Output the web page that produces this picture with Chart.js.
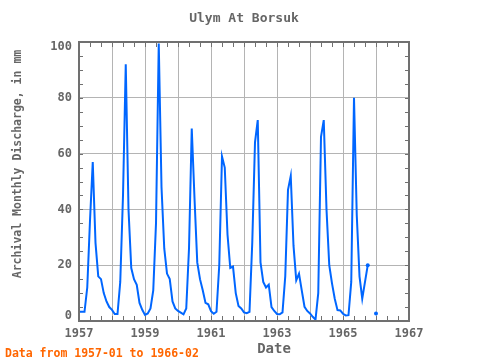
<!DOCTYPE html>
<html>
<head>
<meta charset="utf-8">
<script src="https://cdn.jsdelivr.net/npm/chart.js@4"></script>
<style>
  body { margin: 0; background: #fff; }
  canvas { display: block; }
</style>
</head>
<body>
<canvas id="dischargeChart" width="480" height="360"></canvas>
<script>
// monthly discharge, Ulym at Borsuk, 1957-01 .. 1966-02 (mm)
const startYear = 1957;
const discharge = [
  3.3, 3.3, 3.3, 12, 36, 57, 28, 16, 15, 10, 7, 5,        // 1957
  4, 2.5, 2.5, 14, 45, 92, 40, 19, 15, 13, 6.5, 4,        // 1958
  2.2, 2.7, 4.5, 11, 35, 99.5, 48, 26, 17, 15, 7, 4.5,    // 1959
  3.6, 3, 2.4, 4.5, 26, 69, 44, 21, 15, 11, 6.5, 6,       // 1960
  3.5, 2.6, 3.3, 20, 59, 55, 31, 19, 19.5, 10, 5.4, 4.5,  // 1961
  3.1, 2.8, 3.3, 28, 64, 72, 21, 14, 12, 13, 5, 3.6,      // 1962
  2.5, 2.4, 3.1, 16, 47, 52, 27, 14.6, 17, 11, 5.1, 3.6,  // 1963
  2.7, 1.5, 0.5, 10, 66, 72, 40, 20, 13.5, 8, 3.9, 3.8,   // 1964
  2.6, 2, 2.1, 14, 80, 38, 16, 8, 14, 20, null, null,     // 1965
  2.7, null                                               // 1966
];
const yearTicks = [1957, 1959, 1961, 1963, 1965, 1967];
const yTicks = [0, 20, 40, 60, 80, 100];

const points = discharge.map((v, i) => ({ x: startYear + i / 12, y: v }));

const grey = "#666666";
const mono = "DejaVu Sans Mono";

// frame, inward minor ticks and the loose texts
const decor = {
  id: "decor",
  afterDatasetsDraw(chart) {
    const { ctx, chartArea: a, scales: { x, y } } = chart;
    ctx.save();
    ctx.strokeStyle = "#707070";
    ctx.lineWidth = 1;
    ctx.beginPath();
    for (let t = startYear; t <= 1967.001; t += 1 / 3) {
      const px = Math.round(x.getPixelForValue(t)) + 0.5;
      ctx.moveTo(px, a.bottom); ctx.lineTo(px, a.bottom - 5);
      ctx.moveTo(px, a.top); ctx.lineTo(px, a.top + 5);
    }
    for (let v = 0; v <= 100; v += 5) {
      const py = Math.round(y.getPixelForValue(v)) + 0.5;
      ctx.moveTo(a.left, py); ctx.lineTo(a.left + 4, py);
      ctx.moveTo(a.right, py); ctx.lineTo(a.right - 4, py);
    }
    ctx.stroke();
    ctx.lineWidth = 2;
    ctx.strokeRect(a.left, a.top, a.right - a.left, a.bottom - a.top);

    // y tick labels
    ctx.fillStyle = grey;
    ctx.font = "bold 12px " + mono;
    ctx.textAlign = "right";
    ctx.textBaseline = "middle";
    yTicks.forEach(v => {
      let py = y.getPixelForValue(v);
      if (v === 0) py -= 5;
      if (v === 100) py += 5;
      ctx.fillText(String(v), 72, py);
    });

    ctx.textAlign = "center";
    ctx.textBaseline = "alphabetic";
    ctx.font = "bold 13px " + mono;
    ctx.fillText("Ulym At Borsuk", (a.left + a.right) / 2, 22);
    ctx.font = "bold 14px " + mono;
    ctx.fillText("Date", 274, 353);

    ctx.save();
    ctx.translate(21, 164);
    ctx.rotate(-Math.PI / 2);
    ctx.font = "bold 11.5px " + mono;
    ctx.fillText("Archival Monthly Discharge, in mm", 0, 0);
    ctx.restore();

    ctx.textAlign = "left";
    ctx.fillStyle = "#ff6600";
    ctx.font = "bold 11.5px " + mono;
    ctx.fillText("Data from 1957-01 to 1966-02", 5, 357);
    ctx.restore();
  }
};

const ctx = document.getElementById("dischargeChart");

new Chart(ctx, {
  type: "line",
  data: {
    datasets: [
      {
        label: "Discharge",
        data: points,
        borderColor: "#0066ff",
        backgroundColor: "#0066ff",
        borderWidth: 2,
        spanGaps: false,
        tension: 0,
        pointRadius: c => {
          const i = c.dataIndex;
          if (discharge[i] == null) return 0;
          const gapBefore = i > 0 && discharge[i - 1] == null;
          const gapAfter = i < discharge.length - 1 && discharge[i + 1] == null;
          return gapBefore || gapAfter ? 2 : 0;
        },
        pointBorderWidth: 0,
      }
    ],
  },
  options: {
    responsive: false,
    animation: false,
    devicePixelRatio: 1,
    layout: { padding: { top: 42, right: 71, left: 0, bottom: 0 } },
    plugins: { legend: { display: false }, tooltip: { enabled: false } },
    scales: {
      x: {
        type: "linear",
        min: 1957,
        max: 1967,
        afterFit: s => { s.height = 39; },
        border: { display: false },
        grid: { color: "#b4b4b4", lineWidth: 1, drawTicks: false },
        ticks: {
          stepSize: 1,
          padding: 6,
          color: grey,
          maxRotation: 0,
          autoSkip: false,
          font: { family: mono, size: 12, weight: "bold" },
          callback: v => yearTicks.includes(v) ? String(v) : "",
        },
      },
      y: {
        min: 0,
        max: 100,
        afterFit: s => { s.width = 79; },
        border: { display: false },
        grid: { color: "#b4b4b4", lineWidth: 1, drawTicks: false },
        ticks: { stepSize: 20, display: false },
      },
    },
  },
  plugins: [decor],
});
</script>
</body>
</html>
